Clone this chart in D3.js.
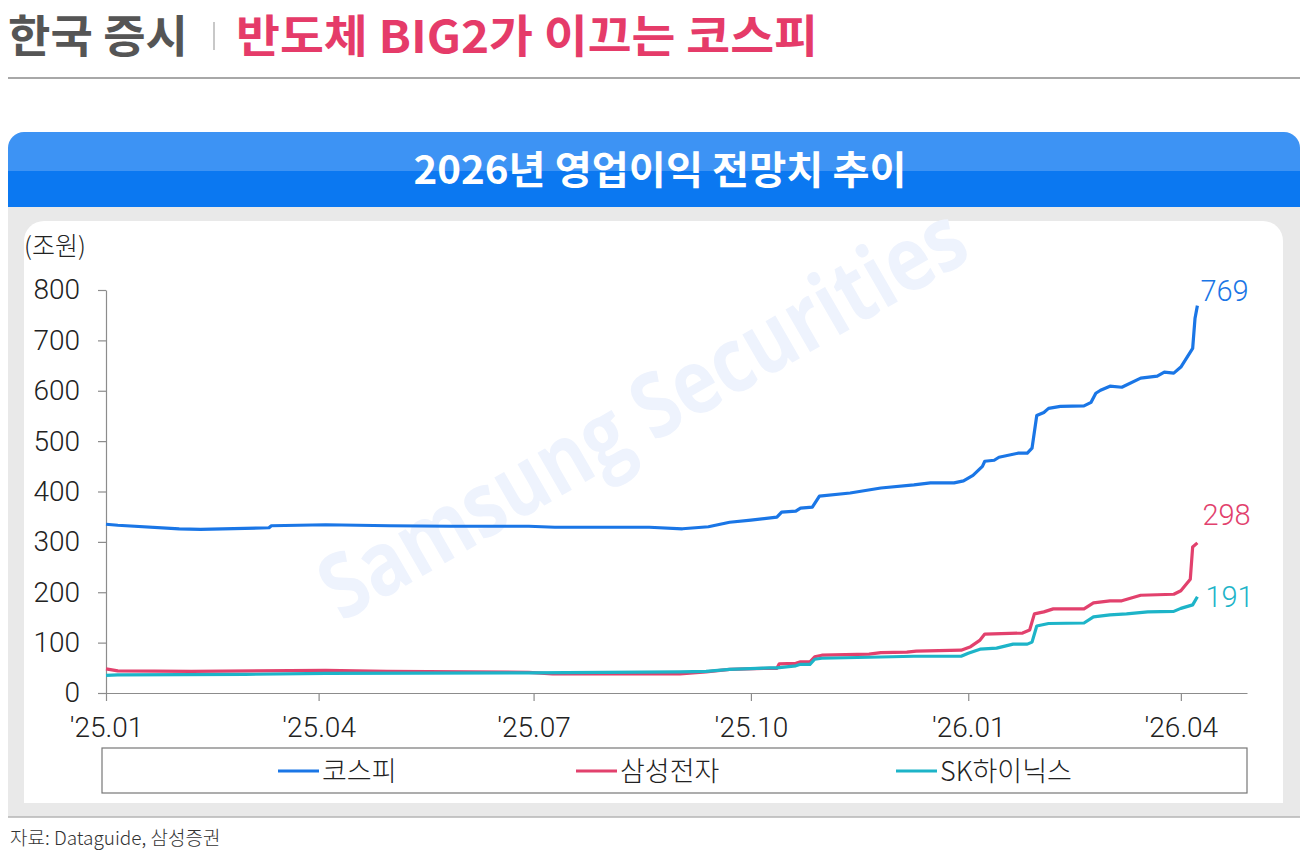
<!DOCTYPE html>
<html>
<head>
  <meta charset="utf-8">
  <script src="https://d3js.org/d3.v7.min.js"></script>
  <style>
    body { margin: 0; background: #fff; }
    svg { display: block; }
    .kr { font-family: "Noto Sans CJK KR", "Noto Sans", sans-serif; }
    .light { font-weight: 300; }
    .num { font-family: Roboto, "Noto Sans CJK KR", sans-serif; font-weight: 300; }
    .axis path, .axis line { stroke: #8c8c8c; stroke-width: 1.2; }
    .axis text { fill: #222; font-size: 28px; }
  </style>
</head>
<body>
  <svg id="chart" width="1308" height="858"></svg>

  <script>
    // ---- data ----
    const seriesNames = ['코스피', '삼성전자', 'SK하이닉스'];
    const xTickDates = ['2025-01-01', '2025-04-01', '2025-07-01', '2025-10-01', '2026-01-01', '2026-04-01'];
    const yTicks = [0, 100, 200, 300, 400, 500, 600, 700, 800];

    const kospi = [
      ['2025-01-01', 335], ['2025-01-06', 333], ['2025-02-01', 326], ['2025-02-10', 325],
      ['2025-03-11', 328], ['2025-03-12', 332], ['2025-04-04', 334], ['2025-05-01', 332],
      ['2025-05-27', 331], ['2025-06-29', 331], ['2025-07-10', 329], ['2025-08-19', 329],
      ['2025-09-02', 326], ['2025-09-13', 330], ['2025-09-22', 339], ['2025-10-01', 343],
      ['2025-10-12', 349], ['2025-10-14', 359], ['2025-10-20', 361], ['2025-10-22', 367],
      ['2025-10-27', 369], ['2025-10-30', 391], ['2025-11-12', 397], ['2025-11-25', 407],
      ['2025-12-09', 413], ['2025-12-16', 417], ['2025-12-26', 417], ['2025-12-30', 421],
      ['2026-01-03', 432], ['2026-01-07', 450], ['2026-01-08', 460], ['2026-01-12', 462],
      ['2026-01-14', 468], ['2026-01-22', 476], ['2026-01-26', 476], ['2026-01-28', 486],
      ['2026-01-30', 551], ['2026-02-02', 557], ['2026-02-04', 565], ['2026-02-09', 569],
      ['2026-02-19', 570], ['2026-02-22', 577], ['2026-02-24', 595], ['2026-02-26', 601],
      ['2026-03-02', 609], ['2026-03-07', 607], ['2026-03-15', 625], ['2026-03-22', 629],
      ['2026-03-25', 637], ['2026-03-29', 635], ['2026-04-01', 647], ['2026-04-06', 684],
      ['2026-04-07', 744], ['2026-04-08', 769]
    ];

    const samsung = [
      ['2025-01-01', 48], ['2025-01-06', 44], ['2025-02-06', 43], ['2025-04-04', 45],
      ['2025-04-30', 43], ['2025-06-29', 41], ['2025-07-09', 38], ['2025-09-01', 38],
      ['2025-09-12', 42], ['2025-09-22', 47], ['2025-10-09', 49], ['2025-10-12', 49],
      ['2025-10-13', 58], ['2025-10-20', 59], ['2025-10-22', 62], ['2025-10-26', 62],
      ['2025-10-28', 72], ['2025-10-31', 75], ['2025-11-20', 77], ['2025-11-25', 80],
      ['2025-12-06', 81], ['2025-12-10', 83], ['2025-12-29', 85], ['2026-01-02', 92],
      ['2026-01-06', 105], ['2026-01-08', 117], ['2026-01-24', 119], ['2026-01-27', 125],
      ['2026-01-29', 157], ['2026-02-02', 161], ['2026-02-06', 167], ['2026-02-19', 167],
      ['2026-02-23', 179], ['2026-03-02', 183], ['2026-03-07', 183], ['2026-03-15', 194],
      ['2026-03-29', 196], ['2026-04-01', 203], ['2026-04-05', 226], ['2026-04-06', 290],
      ['2026-04-08', 298]
    ];

    const hynix = [
      ['2025-01-01', 35], ['2025-01-06', 36], ['2025-03-01', 37], ['2025-04-04', 39],
      ['2025-06-29', 40], ['2025-09-01', 42], ['2025-09-12', 43], ['2025-09-22', 47],
      ['2025-10-09', 50], ['2025-10-12', 50], ['2025-10-16', 52], ['2025-10-20', 54],
      ['2025-10-22', 57], ['2025-10-26', 57], ['2025-10-28', 67], ['2025-10-31', 69],
      ['2025-11-20', 71], ['2025-12-09', 73], ['2025-12-29', 73], ['2026-01-01', 79],
      ['2026-01-06', 87], ['2026-01-13', 89], ['2026-01-20', 97], ['2026-01-26', 97],
      ['2026-01-28', 101], ['2026-01-30', 133], ['2026-02-04', 138], ['2026-02-19', 139],
      ['2026-02-23', 151], ['2026-03-02', 155], ['2026-03-09', 157], ['2026-03-18', 161],
      ['2026-03-29', 162], ['2026-04-01', 168], ['2026-04-06', 175], ['2026-04-08', 191]
    ];

    // ---- styles ----
    const colors = ['#1a76e6', '#e2416d', '#1db4c8'];
    const labelOffsets = [[3, -5], [5, -18], [8, 10]];   // end-value label placement
    const legendX = [278, 576, 896];

    const parse = d3.timeParse('%Y-%m-%d');
    const series = [kospi, samsung, hynix].map((arr, i) => ({
      name: seriesNames[i],
      color: colors[i],
      values: arr.map(d => ({ date: parse(d[0]), value: d[1] }))
    }));

    const svg = d3.select('#chart');

    // ---- page title ----
    svg.append('text').attr('class', 'kr')
      .attr('x', 8).attr('y', 53)
      .attr('font-size', 45).attr('font-weight', 700).attr('fill', '#555')
      .attr('textLength', 180).attr('lengthAdjust', 'spacingAndGlyphs')
      .text('한국 증시');

    svg.append('line')
      .attr('x1', 214).attr('x2', 214).attr('y1', 22).attr('y2', 50)
      .attr('stroke', '#c8c8c8').attr('stroke-width', 2);

    svg.append('text').attr('class', 'kr')
      .attr('x', 236).attr('y', 53)
      .attr('font-size', 45).attr('font-weight', 700).attr('fill', '#e53b69')
      .attr('textLength', 582).attr('lengthAdjust', 'spacingAndGlyphs')
      .text('반도체 BIG2가 이끄는 코스피');

    svg.append('line')
      .attr('x1', 8).attr('x2', 1300).attr('y1', 78).attr('y2', 78)
      .attr('stroke', '#a8a8a8').attr('stroke-width', 2);

    // ---- blue header band ----
    svg.append('path')
      .attr('d', 'M8,171 V148 A16,16 0 0 1 24,132 H1284 A16,16 0 0 1 1300,148 V171 Z')
      .attr('fill', '#3d93f4');
    svg.append('rect')
      .attr('x', 8).attr('y', 171).attr('width', 1292).attr('height', 36)
      .attr('fill', '#0b78f1');

    svg.append('text').attr('class', 'kr')
      .attr('x', 660).attr('y', 184)
      .attr('text-anchor', 'middle')
      .attr('font-size', 39).attr('font-weight', 700).attr('fill', '#fff')
      .attr('textLength', 493).attr('lengthAdjust', 'spacingAndGlyphs')
      .text('2026년 영업이익 전망치 추이');

    // ---- grey panel + white card ----
    svg.append('rect')
      .attr('x', 8).attr('y', 207).attr('width', 1292).attr('height', 610)
      .attr('fill', '#e9e9e9');
    svg.append('line')
      .attr('x1', 8).attr('x2', 1300).attr('y1', 817).attr('y2', 817)
      .attr('stroke', '#b4b4b4').attr('stroke-width', 1.5);
    svg.append('path')
      .attr('d', 'M24,803 V241 A20,20 0 0 1 44,221 H1263 A20,20 0 0 1 1283,241 V803 Z')
      .attr('fill', '#fff');

    // watermark
    svg.append('text')
      .attr('transform', 'translate(658,440) rotate(-30)')
      .attr('text-anchor', 'middle')
      .attr('font-family', '"Open Sans", Lato, sans-serif')
      .attr('font-weight', 700).attr('font-size', 90)
      .attr('fill', '#eef3fd')
      .attr('textLength', 730).attr('lengthAdjust', 'spacingAndGlyphs')
      .text('Samsung Securities');

    // ---- scales ----
    const x = d3.scaleTime()
      .domain([parse('2025-01-01'), parse('2026-04-29')])
      .range([106, 1247]);

    const y = d3.scaleLinear()
      .domain([0, 800])
      .range([693, 290]);

    // ---- axes ----
    svg.append('g')
      .attr('class', 'axis num')
      .attr('transform', 'translate(106,0)')
      .call(d3.axisLeft(y).tickValues(yTicks).tickSize(8).tickSizeOuter(0).tickPadding(18));

    svg.append('g')
      .attr('class', 'axis num')
      .attr('transform', 'translate(0,693)')
      .call(d3.axisBottom(x)
        .tickValues(xTickDates.map(parse))
        .tickFormat(d3.timeFormat("'%y.%m"))
        .tickSize(8).tickSizeOuter(0).tickPadding(16));

    svg.selectAll('.axis .domain').attr('stroke', '#8c8c8c');

    svg.append('text').attr('class', 'kr light')
      .attr('x', 24).attr('y', 255)
      .attr('font-size', 25).attr('fill', '#222')
      .text('(조원)');

    // ---- lines ----
    const line = d3.line()
      .x(d => x(d.date))
      .y(d => y(d.value));

    svg.append('g').selectAll('path')
      .data(series)
      .enter()
      .append('path')
      .attr('d', d => line(d.values))
      .attr('fill', 'none')
      .attr('stroke', d => d.color)
      .attr('stroke-width', 3.2)
      .attr('stroke-linejoin', 'round');

    // end labels
    svg.append('g').selectAll('text')
      .data(series)
      .enter()
      .append('text')
      .attr('class', 'num')
      .attr('x', (d, i) => x(d.values[d.values.length - 1].date) + labelOffsets[i][0])
      .attr('y', (d, i) => y(d.values[d.values.length - 1].value) + labelOffsets[i][1])
      .attr('font-size', 29)
      .attr('fill', d => d.color)
      .text(d => d.values[d.values.length - 1].value);

    // ---- legend ----
    svg.append('rect')
      .attr('x', 102).attr('y', 748).attr('width', 1145).attr('height', 45)
      .attr('fill', 'none').attr('stroke', '#777').attr('stroke-width', 1.2);

    const legend = svg.append('g').selectAll('g')
      .data(series)
      .enter()
      .append('g')
      .attr('transform', (d, i) => `translate(${legendX[i]},771)`);

    legend.append('line')
      .attr('x1', 0).attr('x2', 41)
      .attr('stroke', d => d.color).attr('stroke-width', 3.2);

    legend.append('text')
      .attr('class', 'kr light')
      .attr('x', 44).attr('y', 10)
      .attr('font-size', 27).attr('fill', '#222')
      .text(d => d.name);

    // ---- source ----
    svg.append('text').attr('class', 'kr light')
      .attr('x', 10).attr('y', 845)
      .attr('font-size', 19).attr('fill', '#333')
      .text('자료: Dataguide, 삼성증권');
  </script>
</body>
</html>
